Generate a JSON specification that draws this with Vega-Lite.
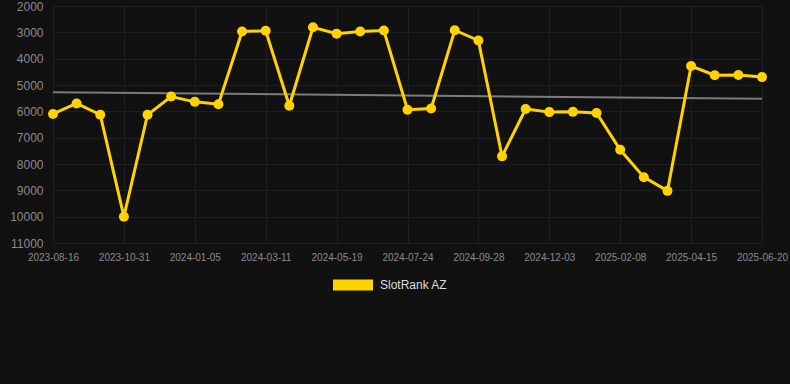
{
  "$schema": "https://vega.github.io/schema/vega-lite/v6.json",
  "width": 709,
  "height": 237,
  "autosize": {"type": "none"},
  "padding": {"left": 53, "top": 6, "right": 28, "bottom": 141},
  "background": "#111111",
  "config": {
    "view": {"stroke": null},
    "font": "Liberation Sans",
    "axis": {"domain": false, "ticks": false, "gridColor": "#1f1f1f", "gridWidth": 1, "labelColor": "#8a8a8a", "labelFont": "Liberation Sans", "title": null}
  },
  "datasets": {
    "rank": [
      {"i": 0, "date": "2023-08-16", "rank": 6100},
      {"i": 1, "date": "2023-09-17", "rank": 5700},
      {"i": 2, "date": "2023-10-09", "rank": 6130},
      {"i": 3, "date": "2023-10-31", "rank": 10000},
      {"i": 4, "date": "2023-11-22", "rank": 6130},
      {"i": 5, "date": "2023-12-14", "rank": 5440},
      {"i": 6, "date": "2024-01-05", "rank": 5640},
      {"i": 7, "date": "2024-01-27", "rank": 5730},
      {"i": 8, "date": "2024-02-18", "rank": 2970},
      {"i": 9, "date": "2024-03-11", "rank": 2940},
      {"i": 10, "date": "2024-04-03", "rank": 5790},
      {"i": 11, "date": "2024-04-26", "rank": 2810},
      {"i": 12, "date": "2024-05-19", "rank": 3050},
      {"i": 13, "date": "2024-06-10", "rank": 2970},
      {"i": 14, "date": "2024-07-02", "rank": 2930},
      {"i": 15, "date": "2024-07-24", "rank": 5940},
      {"i": 16, "date": "2024-08-15", "rank": 5890},
      {"i": 17, "date": "2024-09-06", "rank": 2920},
      {"i": 18, "date": "2024-09-28", "rank": 3310},
      {"i": 19, "date": "2024-10-20", "rank": 7710},
      {"i": 20, "date": "2024-11-11", "rank": 5910},
      {"i": 21, "date": "2024-12-03", "rank": 6030},
      {"i": 22, "date": "2024-12-25", "rank": 6020},
      {"i": 23, "date": "2025-01-16", "rank": 6060},
      {"i": 24, "date": "2025-02-08", "rank": 7460},
      {"i": 25, "date": "2025-03-02", "rank": 8500},
      {"i": 26, "date": "2025-03-24", "rank": 9020},
      {"i": 27, "date": "2025-04-15", "rank": 4280},
      {"i": 28, "date": "2025-05-07", "rank": 4630},
      {"i": 29, "date": "2025-05-29", "rank": 4620},
      {"i": 30, "date": "2025-06-20", "rank": 4700}
    ]
  },
  "data": {"name": "rank"},
  "encoding": {
    "x": {
      "field": "date",
      "type": "ordinal",
      "scale": {"type": "point", "padding": 0},
      "axis": {
        "labelAngle": 0,
        "values": ["2023-08-16", "2023-10-31", "2024-01-05", "2024-03-11", "2024-05-19", "2024-07-24", "2024-09-28", "2024-12-03", "2025-02-08", "2025-04-15", "2025-06-20"],
        "labelFontSize": 10,
        "labelPadding": 9,
        "grid": true
      }
    },
    "y": {
      "field": "rank",
      "type": "quantitative",
      "scale": {"domain": [2000, 11000], "reverse": true, "nice": false, "zero": false},
      "axis": {
        "values": [2000, 3000, 4000, 5000, 6000, 7000, 8000, 9000, 10000, 11000],
        "format": "d",
        "labelFontSize": 12,
        "labelPadding": 10,
        "grid": true
      }
    }
  },
  "layer": [
    {
      "transform": [
        {"regression": "rank", "on": "i"},
        {"lookup": "i", "from": {"data": {"name": "rank"}, "key": "i", "fields": ["date"]}}
      ],
      "mark": {"type": "line", "color": "#7c7c7c", "strokeWidth": 2}
    },
    {
      "mark": {"type": "line", "strokeWidth": 3, "point": {"size": 100, "filled": true, "opacity": 1}},
      "encoding": {
        "color": {
          "datum": "SlotRank AZ",
          "scale": {"range": ["#FFD200"]},
          "legend": {
            "title": null,
            "orient": "none",
            "legendX": 280,
            "legendY": 259,
            "symbolType": "M-1,-0.275L1,-0.275L1,0.275L-1,0.275Z",
            "symbolSize": 1600,
            "symbolStrokeWidth": 0,
            "symbolFillColor": "#FFD200",
            "labelColor": "#dddddd",
            "labelFontSize": 12,
            "labelOffset": 7,
            "labelFont": "Liberation Sans",
            "encode": {"symbols": {"update": {"fill": {"value": "#FFD200"}, "strokeWidth": {"value": 0}}}}
          }
        }
      }
    }
  ]
}
